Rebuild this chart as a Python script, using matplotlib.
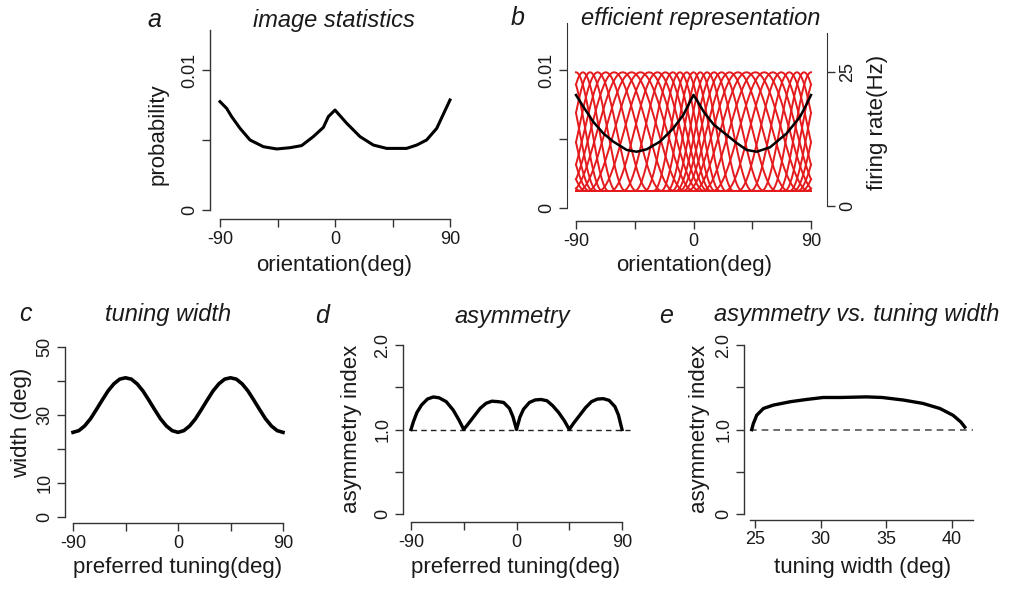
import numpy as np
import matplotlib
matplotlib.use("Agg")
import matplotlib.pyplot as plt

plt.rcParams['font.family'] = ['Liberation Sans', 'DejaVu Sans']

# ---- data ----
# a: image statistics (probability vs orientation)
theta_a = [-90, -84.8, -80.9, -74.3, -66.5, -56, -45.6, -35.2, -26.1, -17, -9.1, -5.2, 0,
           9.1, 19.6, 30, 40.4, 56, 64, 71.7, 79.6, 90]
prob_a = [7.74, 7.26, 6.67, 5.83, 5.0, 4.52, 4.36, 4.45, 4.6, 5.24, 5.9, 6.67, 7.14,
          6.2, 5.24, 4.64, 4.4, 4.4, 4.64, 5.0, 5.83, 7.86]  # x 1e-3

# b: prior used for the efficient code (black) + tuning curve centres (red)
theta_b = [-90, -84.4, -76.8, -69.1, -61.4, -51.2, -43.5, -35.8, -25.7, -15.5, -7.8, -2.7, 0,
           3, 8, 15.5, 22.8, 33.1, 40.7, 48.4, 58.6, 71.4, 81.6, 86.5, 90]
prob_b = [8.19, 7.35, 6.26, 5.42, 4.82, 4.22, 4.09, 4.27, 4.82, 5.78, 6.75, 7.71, 8.2,
          7.75, 6.95, 6.05, 5.5, 4.72, 4.22, 4.09, 4.41, 5.42, 6.62, 7.5, 8.19]  # x 1e-3
pref_b = [-90, -84.7, -79.2, -73.4, -67.2, -60.8, -54.2, -47.4, -40.6, -34.0, -27.6, -21.5,
          -15.8, -10.4, -5.2, 0, 5.2, 10.4, 15.8, 21.5, 27.6, 34.0, 40.6, 47.4, 54.2, 60.8,
          67.2, 73.4, 79.2, 84.7]
peak_rate = 25.0
base_rate = 2.8

# c: tuning width vs preferred tuning
theta_c = [-90, -85, -80, -75, -70, -65, -60, -55, -50, -45, -40, -35, -30, -25, -20, -15,
           -10, -5, 0, 5, 10, 15, 20, 25, 30, 35, 40, 45, 50, 55, 60, 65, 70, 75, 80, 85, 90]
width_c = [24.9, 25.4, 26.8, 28.9, 31.6, 34.4, 37.1, 39.2, 40.6, 41.0, 40.6, 39.2, 37.1,
           34.4, 31.6, 28.9, 26.8, 25.4, 24.9, 25.4, 26.8, 28.9, 31.6, 34.4, 37.1, 39.2,
           40.6, 41.0, 40.6, 39.2, 37.1, 34.4, 31.6, 28.9, 26.8, 25.4, 24.9]

# d: asymmetry index vs preferred tuning
theta_d = [-90, -88, -85, -81, -76, -71, -66, -60, -54, -49, -45, -41, -36, -31, -26, -21,
           -16, -11, -6, -3, 0, 3, 6, 11, 16, 21, 26, 31, 36, 41, 45, 49, 54, 59, 64, 69,
           74, 79, 84, 87, 90]
asym_d = [1.0, 1.09, 1.2, 1.29, 1.36, 1.385, 1.375, 1.33, 1.23, 1.11, 1.0, 1.07, 1.16, 1.25,
          1.31, 1.335, 1.33, 1.32, 1.25, 1.15, 1.0, 1.15, 1.24, 1.32, 1.35, 1.355, 1.34, 1.28,
          1.2, 1.1, 1.0, 1.08, 1.17, 1.26, 1.33, 1.36, 1.365, 1.345, 1.27, 1.17, 1.0]

# e: asymmetry index vs tuning width
width_e = [24.75, 24.87, 25.13, 25.64, 26.4, 27.7, 28.9, 30.2, 31.5, 33.5, 34.7, 36.3,
           37.8, 39.1, 40.1, 40.7, 41.0]
asym_e = [1.0, 1.07, 1.17, 1.25, 1.29, 1.33, 1.356, 1.38, 1.38, 1.387, 1.38, 1.35, 1.31,
          1.25, 1.17, 1.09, 1.03]

W, H = 1010, 590
TXT = '#1a1a1a'
AXC = '#333333'
RED = '#e41a1c'

fig = plt.figure(figsize=(W / 100, H / 100), dpi=100)


def panel(box, xpx, xval, ypx, yval):
    # box = (left, top, right, bottom) in pixels; left/bottom are where the axis lines sit
    l, t, r, b = box
    ax = fig.add_axes([l / W, 1 - b / H, (r - l) / W, (b - t) / H])
    sx = (xval[1] - xval[0]) / (xpx[1] - xpx[0])
    ax.set_xlim(xval[0] + (l - xpx[0]) * sx, xval[0] + (r - xpx[0]) * sx)
    sy = (yval[1] - yval[0]) / (ypx[1] - ypx[0])
    ax.set_ylim(yval[0] + (b - ypx[0]) * sy, yval[0] + (t - ypx[0]) * sy)
    ax.patch.set_alpha(0)
    for s in ['top', 'right']:
        ax.spines[s].set_visible(False)
    for s in ['left', 'bottom']:
        ax.spines[s].set_color(AXC)
        ax.spines[s].set_linewidth(1.0)
    ax.tick_params(length=6, width=1.0, color=AXC, labelsize=13, labelcolor=TXT, pad=2.5)
    return ax


def yticks(ax, ticks, labels):
    ax.set_yticks(ticks)
    ax.set_yticklabels(labels, rotation=90, va='center')


def xticks(ax, ticks, labels):
    ax.set_xticks(ticks)
    ax.set_xticklabels(labels)


def ftext(x, y, s, **kw):
    kw.setdefault('color', TXT)
    fig.text(x / W, 1 - y / H, s, **kw)


deg_ticks = [-90, -45, 0, 45, 90]
deg_labels = ['-90', '', '0', '', '90']

# ---- a ----
ax = panel((210, 25, 462, 219), (220, 450), (-90, 90), (210, 70), (0, 0.01))
ax.plot(theta_a, np.array(prob_a) * 1e-3, color='black', lw=2.2, solid_joinstyle='round')
ax.spines['left'].set_bounds(0, 0.01286)
ax.spines['bottom'].set_bounds(-90, 90)
yticks(ax, [0, 0.005, 0.01], ['0', '', '0.01'])
xticks(ax, deg_ticks, deg_labels)

# ---- b ----
axr = panel((567, 23, 827, 221), (576, 811), (-90, 90), (206, 72.3), (0, 25))
axl = axr.twinx()

grid = np.linspace(-90, 90, 721)
for c in pref_b:
    w = np.interp(c, theta_c, width_c)
    d = (grid - c + 90) % 180 - 90          # circular distance, orientation space
    f = np.where(np.abs(d) < w, np.cos(np.pi * d / (2 * w)) ** 2, 0.0)
    axr.plot(grid, base_rate + (peak_rate - base_rate) * f, color=RED, lw=1.4)
axr.spines['left'].set_visible(False)
axr.spines['right'].set_visible(True)
axr.spines['right'].set_color(AXC)
axr.spines['right'].set_bounds(0, 32.3)
axr.spines['bottom'].set_bounds(-90, 90)
xticks(axr, deg_ticks, deg_labels)

axl.set_ylim(*[(208.3 - p) / 13830 for p in (221, 23)])
axl.plot(theta_b, np.array(prob_b) * 1e-3, color='black', lw=1.8)
for s in ['top', 'right', 'bottom']:
    axl.spines[s].set_visible(False)
axl.spines['left'].set_visible(True)
axl.spines['left'].set_color(AXC)
axl.spines['left'].set_bounds(0, 0.0134)

axr.yaxis.tick_right()
axr.yaxis.set_label_position('right')
axl.yaxis.tick_left()
for a in (axr, axl):
    a.tick_params(length=6, width=1.0, color=AXC, labelsize=13, labelcolor=TXT, pad=2.5)
yticks(axr, [0, 25], ['0', '25'])
yticks(axl, [0, 0.005, 0.01], ['0', '', '0.01'])

# ---- c ----
ax = panel((65, 335, 295, 523), (73, 283), (-90, 90), (516.7, 347.3), (0, 50))
ax.plot(theta_c, width_c, color='black', lw=2.6)
ax.spines['left'].set_bounds(0, 50)
ax.spines['bottom'].set_bounds(-90, 90)
yticks(ax, [0, 10, 20, 30, 40, 50], ['0', '10', '', '30', '', '50'])
xticks(ax, deg_ticks, deg_labels)

# ---- d ----
ax = panel((403, 335, 632, 522), (411, 622), (-90, 90), (514, 345), (0, 2.0))
ax.plot([-90, 97], [1, 1], color='#222222', lw=1.0, ls=(0, (4, 3)))
ax.plot(theta_d, asym_d, color='black', lw=2.4)
ax.spines['left'].set_bounds(0, 2.0)
ax.spines['bottom'].set_bounds(-90, 90)
yticks(ax, [0, 0.5, 1.0, 1.5, 2.0], ['0', '', '1.0', '', '2.0'])
xticks(ax, deg_ticks, deg_labels)

# ---- e ----
ax = panel((744, 335, 985, 519.5), (755, 951.7), (25, 40), (514.3, 345), (0, 2.0))
ax.plot([24.6, 41.6], [1, 1], color='#555555', lw=1.2, ls=(0, (4, 3)))
ax.plot(width_e, asym_e, color='black', lw=2.4)
ax.spines['left'].set_bounds(0, 2.0)
ax.spines['bottom'].set_bounds(24.6, 41.65)
yticks(ax, [0, 0.5, 1.0, 1.5, 2.0], ['0', '', '1.0', '', '2.0'])
xticks(ax, [25, 30, 35, 40], ['25', '30', '35', '40'])

# ---- letters and titles ----
let = dict(fontsize=18, style='italic', ha='center', va='baseline')
tit = dict(fontsize=17, style='italic', ha='center', va='baseline')
ftext(154, 27, 'a', **let)
ftext(334, 27, 'image statistics', **tit)
ftext(518, 25, 'b', **let)
ftext(701, 25, 'efficient representation', **tit)
ftext(25, 321, 'c', **let)
ftext(168, 321, 'tuning width', **tit)
ftext(322, 323, 'd', **let)
ftext(512, 323, 'asymmetry', **tit)
ftext(666, 323, 'e', **let)
ftext(857, 321, 'asymmetry vs. tuning width', **tit)

# ---- axis labels ----
lab = dict(fontsize=16, ha='center', va='center')
ftext(334, 266, 'orientation(deg)', **lab)
ftext(694, 266, 'orientation(deg)', **lab)
ftext(158, 134, 'probability', rotation=90, **lab)
ftext(878, 122, 'firing rate(Hz)', rotation=90, **lab)
ftext(178, 567, 'preferred tuning(deg)', **lab)
ftext(516, 567, 'preferred tuning(deg)', **lab)
ftext(863, 567, 'tuning width (deg)', **lab)
ftext(22, 423, 'width (deg)', rotation=90, **lab)
ftext(352, 429, 'asymmetry index', rotation=90, **lab)
ftext(700, 429, 'asymmetry index', rotation=90, **lab)

fig.savefig('out.png', dpi=100)
